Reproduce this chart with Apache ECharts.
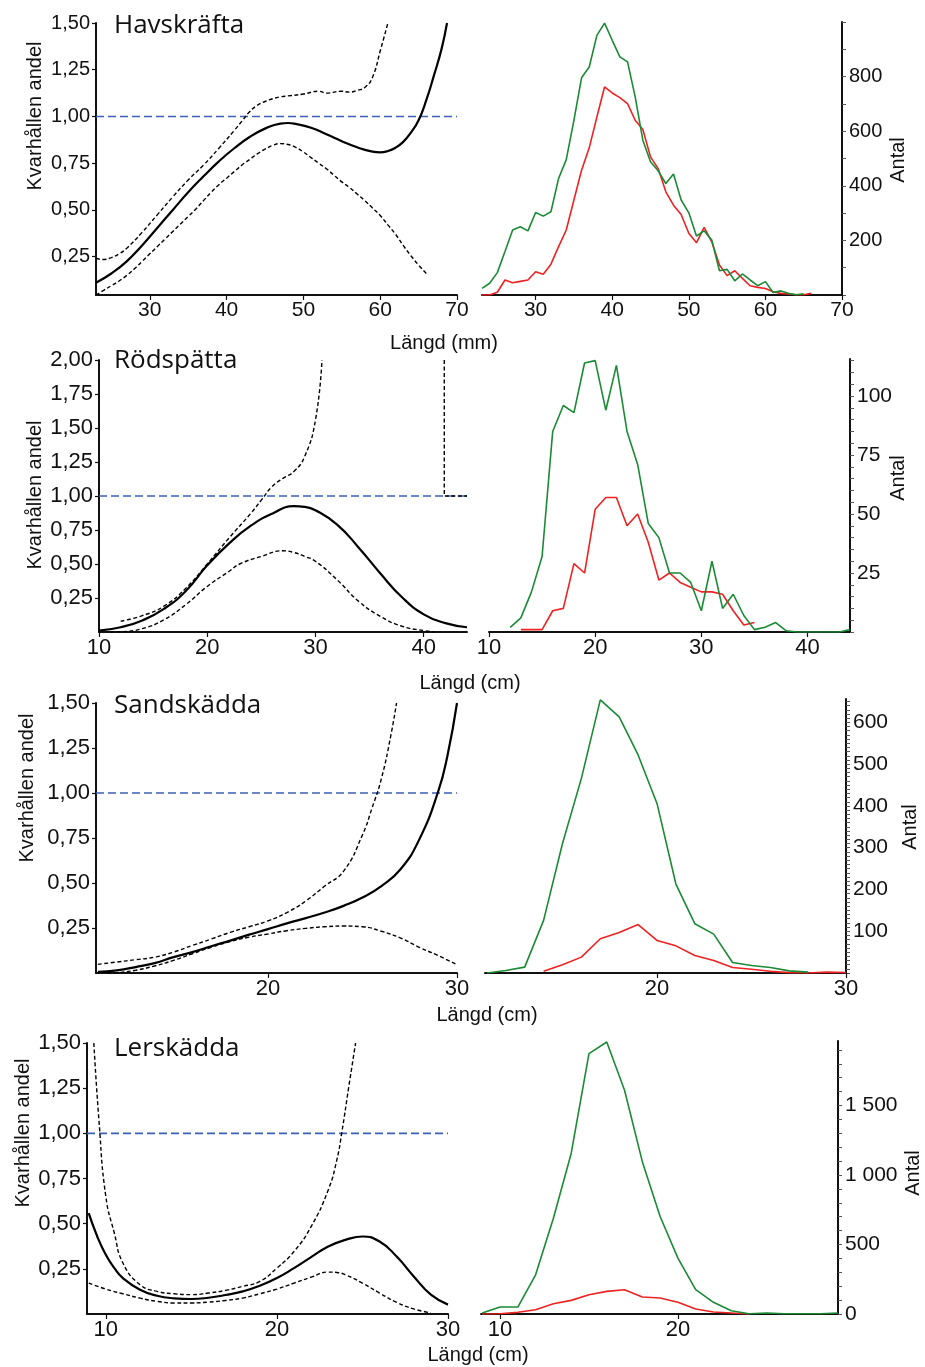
<!DOCTYPE html>
<html>
<head>
<meta charset="utf-8">
<script src="https://cdn.jsdelivr.net/npm/echarts@6/dist/echarts.min.js"></script>
<style>
html, body { margin: 0; padding: 0; background: #fff; }
#chart { width: 925px; height: 1367px; }
</style>
</head>
<body>
<div id="chart"></div>
<script>
// ---- Havskräfta: selection curve (fit, upper and lower limits) ----
const havFit = [[23,0.111],[25,0.16],[27,0.225],[29,0.31],[31,0.405],[33,0.5],[35,0.595],[37,0.68],[39,0.76],[41,0.83],[43,0.89],[45,0.935],[47,0.962],[48,0.965],[49,0.96],[51,0.94],[53,0.905],[55,0.868],[57,0.835],[59,0.812],[60,0.808],[61,0.815],[62,0.833],[63,0.864],[64,0.914],[65,0.98],[66,1.087],[67,1.22],[68,1.363],[68.7,1.5]];
const havUpper = [[23,0.24],[24,0.235],[25,0.245],[26,0.265],[27,0.295],[29,0.38],[31,0.475],[33,0.57],[35,0.66],[37,0.74],[39,0.83],[41,0.925],[42,0.975],[43,1.025],[44,1.06],[45,1.08],[46,1.095],[47,1.105],[48,1.11],[50,1.12],[52,1.135],[53,1.125],[55,1.135],[56,1.13],[57,1.14],[58,1.155],[59,1.21],[60,1.35],[61,1.5]];
const havLower = [[23,0.045],[24,0.07],[25,0.095],[26,0.12],[27,0.15],[28,0.185],[29,0.225],[30,0.265],[31,0.305],[32,0.345],[33,0.385],[34,0.425],[35,0.465],[36,0.505],[37,0.55],[38,0.595],[39,0.635],[40,0.67],[41,0.705],[42,0.74],[43,0.77],[44,0.8],[45,0.825],[46,0.845],[47,0.855],[48,0.85],[49,0.835],[50,0.81],[51,0.78],[52,0.75],[53,0.72],[54,0.685],[55,0.65],[56,0.62],[57,0.585],[58,0.55],[59,0.51],[60,0.47],[61,0.42],[62,0.37],[63,0.31],[64,0.255],[65,0.205],[66,0.16]];
// Havskräfta: length distribution (mm)
const havGreenLen = [23,24,25,26,27,28,29,30,31,32,33,34,35,36,37,38,39,40,41,42,43,44,45,46,47,48,49,50,51,52,53,54,55,56,57,58,59,60,61,62,63,64,65];
const havGreen = [24,43,82,159,238,250,235,302,289,305,427,496,640,796,835,951,996,933,872,854,726,567,488,455,408,443,348,301,216,235,201,89,94,52,77,55,34,49,9,15,6,1,4];
const havRedLen = [23,24,25,26,27,28,29,30,31,32,33,34,35,36,37,38,39,40,41,42,43,44,45,46,47,48,49,50,51,52,53,54,55,56,57,58,59,60,61,62,63,64,65,66];
const havRed = [0,0,10,55,45,50,55,85,76,113,177,238,348,457,539,652,762,740,723,701,640,606,506,463,378,329,295,226,191,248,195,110,71,89,61,34,28,24,12,6,4,1,1,6];

// ---- Rödspätta ----
const rodFit = [[10,0.01],[12,0.035],[14,0.085],[16,0.17],[18,0.3],[20,0.49],[22,0.65],[24,0.78],[26,0.87],[28,0.925],[29,0.92],[30,0.895],[32,0.79],[34,0.62],[36,0.43],[38,0.255],[40,0.13],[42,0.065],[44,0.035]];
const rodUpper = [[12,0.08],[14,0.12],[16,0.19],[18,0.32],[20,0.5],[22,0.69],[24,0.87],[25,0.97],[26,1.07],[27,1.13],[28,1.18],[29,1.29],[30,1.56],[30.6,2.0]];
const rodUpperTail = [[41.9,2.0],[41.9,1.0],[44,1.0]];
const rodLower = [[11,0],[12,0.002],[14,0.025],[16,0.09],[18,0.2],[20,0.335],[22,0.445],[23,0.5],[25,0.556],[27,0.597],[28,0.585],[29,0.556],[30,0.52],[32,0.384],[34,0.225],[36,0.115],[38,0.042],[40,0.01],[41,0]];
const rodGreenLen = [12,13,14,15,16,17,18,19,20,21,22,23,24,25,26,27,28,29,30,31,32,33,34,35,36,37,38,39,40,41,42,43,44];
const rodGreen = [2,6,17,32,85,96,93,114,115,94,113,85,71,46,40,25,25,21,9,30,10,16,7,1,2,4,0.5,0,0,0,0,0,1];
const rodRedLen = [13,14,15,16,17,18,19,20,21,22,23,24,25,26,27,28,29,30,31,32,33,34,35];
const rodRed = [1,1,1,9,10,29,25,52,57,57,45,50,38,22,25,21,19,17,17,16,9,3,4];

// ---- Sandskädda ----
const sanFit = [[11,0.006],[12,0.015],[13,0.033],[14,0.055],[15,0.088],[16,0.116],[17,0.149],[18,0.18],[19,0.213],[20,0.244],[21,0.276],[22,0.305],[23,0.336],[24,0.373],[25,0.419],[26,0.483],[27,0.575],[28,0.741],[29,1.007],[29.5,1.21],[30,1.5]];
const sanUpper = [[11,0.048],[12,0.061],[13,0.074],[14,0.088],[15,0.116],[16,0.153],[17,0.189],[18,0.226],[19,0.257],[20,0.29],[21,0.336],[22,0.4],[23,0.483],[24,0.566],[25,0.768],[25.5,0.915],[26,1.08],[26.5,1.32],[26.8,1.5]];
const sanLower = [[11.5,0],[12,0.002],[13,0.015],[14,0.039],[15,0.07],[16,0.107],[17,0.143],[18,0.175],[19,0.199],[20,0.217],[21,0.235],[22,0.248],[23,0.257],[24,0.261],[25,0.257],[26,0.232],[27,0.195],[28,0.143],[29,0.097],[30,0.046]];
const sanGreenLen = [11,12,13,14,15,16,17,18,19,20,21,22,23,24,25,26,27,28];
const sanGreen = [0,6,14,126,310,466,654,613,522,406,213,118,93,25,18,13,5,2];
const sanRedLen = [14,15,16,17,18,19,20,21,22,23,24,25,26,27,28,29,30];
const sanRed = [4,20,38,82,97,116,78,65,42,30,13,9,4,1,0,2,1];

// ---- Lerskädda ----
const lerFit = [[9,0.558],[9.5,0.429],[10,0.328],[10.5,0.254],[11,0.199],[12,0.134],[13,0.101],[14,0.087],[15,0.083],[16,0.09],[17,0.105],[18,0.125],[19,0.156],[20,0.199],[21,0.254],[22,0.315],[23,0.374],[24,0.41],[25,0.429],[26,0.401],[27,0.318],[28,0.208],[29,0.107],[30,0.052]];
const lerUpper = [[9.3,1.5],[9.6,1.07],[10,0.65],[10.5,0.447],[11,0.282],[12,0.162],[13,0.125],[14,0.112],[15,0.107],[16,0.116],[17,0.131],[18,0.153],[19,0.18],[20,0.254],[21,0.346],[22,0.484],[23,0.687],[23.5,0.852],[23.8,1.009],[24.2,1.257],[24.6,1.5]];
const lerLower = [[9,0.171],[10,0.138],[11,0.112],[12,0.088],[13,0.07],[14,0.061],[15,0.061],[16,0.066],[17,0.075],[18,0.088],[19,0.112],[20,0.138],[21,0.171],[22,0.204],[23,0.232],[23.5,0.23],[24,0.217],[25,0.171],[26,0.116],[27,0.064],[28,0.028],[29,0.006]];
const lerGreenLen = [9,10,11,12,13,14,15,16,17,18,19,20,21,22,23,24,25,26,27,28,29];
const lerGreen = [7,50,50,282,689,1155,1873,1957,1610,1096,701,402,175,84,24,2,7,2,2,2,7];
const lerRedLen = [9,10,11,12,13,14,15,16,17,18,19,20,21,22,23,24];
const lerRed = [0,2,12,31,74,98,139,163,175,122,115,84,36,14,7,0];

// ---- Axis tick labels ----
const shareTicks = [0.25,0.5,0.75,1.0,1.25,1.5];
const shareTicksRod = [0.25,0.5,0.75,1.0,1.25,1.5,1.75,2.0];
const havLenTicks = [30,40,50,60,70];
const rodLenTicks = [10,20,30,40];
const sanLenTicks = [20,30];
const lerLenTicksLeft = [10,20,30];
const lerLenTicksRight = [10,20];
const havCountLabels = [200,400,600,800];
const rodCountLabels = [25,50,75,100];
const sanCountLabels = [100,200,300,400,500,600];
const lerCountLabels = [0,500,1000,1500];

const FONT = 'Liberation Sans, Arial, sans-serif';
const TITLE_FONT = 'Open Sans, sans-serif';
const GREEN = '#1b8a35';
const RED = '#ee2222';
const BLUE = '#3a62b8';

function range(a, b, step) {
  const out = [];
  for (let v = a; v <= b + 1e-9; v += step) out.push(Math.round(v * 1000) / 1000);
  return out;
}
function pairs(xs, ys) { return xs.map((x, i) => [x, ys[i]]); }

const grids = [
  { left: 96, top: 23, width: 361, height: 272 },
  { left: 482, top: 22, width: 360, height: 273 },
  { left: 99, top: 360, width: 368, height: 272 },
  { left: 489, top: 359, width: 361, height: 273 },
  { left: 96, top: 703, width: 361, height: 270 },
  { left: 485, top: 699, width: 361, height: 274 },
  { left: 87, top: 1043, width: 361, height: 271 },
  { left: 481, top: 1041, width: 357, height: 273 }
].map(g => Object.assign({ outerBoundsMode: 'none', containLabel: false }, g));

const axisLine = { show: true, onZero: false, lineStyle: { color: '#111', width: 2 } };

function xAxis(gi, min, max, ticks, size) {
  return {
    type: 'value', gridIndex: gi, min: min, max: max,
    axisLine: axisLine,
    axisTick: { show: true, length: 5, lineStyle: { color: '#111', width: 1.2 }, customValues: ticks },
    axisLabel: { customValues: ticks, color: '#111', fontFamily: FONT, fontSize: size, margin: 5 },
    splitLine: { show: false }
  };
}
function shareAxis(gi, min, max, ticks, size) {
  return {
    type: 'value', gridIndex: gi, min: min, max: max, position: 'left',
    axisLine: axisLine,
    axisTick: { show: true, length: 4, lineStyle: { color: '#111', width: 1.2 }, customValues: ticks },
    axisLabel: {
      customValues: ticks, color: '#111', fontFamily: FONT, fontSize: size, margin: 6,
      formatter: v => v.toFixed(2).replace('.', ',')
    },
    splitLine: { show: false }
  };
}
function countAxis(gi, max, labels, tickStep, size) {
  return {
    type: 'value', gridIndex: gi, min: 0, max: max, position: 'right',
    axisLine: axisLine,
    axisTick: { show: true, length: 4, lineStyle: { color: '#555', width: 1 }, customValues: range(0, max, tickStep) },
    axisLabel: {
      customValues: labels, color: '#111', fontFamily: FONT, fontSize: size, margin: 7,
      formatter: v => String(v).replace(/\B(?=(\d{3})+(?!\d))/g, ' ')
    },
    splitLine: { show: false }
  };
}

const xAxes = [
  xAxis(0, 23, 70, havLenTicks, 21), xAxis(1, 23, 70, havLenTicks, 21),
  xAxis(2, 10, 44, rodLenTicks, 22), xAxis(3, 10, 44, rodLenTicks, 22),
  xAxis(4, 10.9, 30, sanLenTicks, 22), xAxis(5, 10.9, 30, sanLenTicks, 22),
  xAxis(6, 8.9, 30, lerLenTicksLeft, 22), xAxis(7, 8.93, 29, lerLenTicksRight, 22)
];
const yAxes = [
  shareAxis(0, 0.045, 1.5, shareTicks, 20), countAxis(1, 1000, havCountLabels, 100, 20),
  shareAxis(2, 0, 2.0, shareTicksRod, 22), countAxis(3, 115.7, rodCountLabels, 5, 21),
  shareAxis(4, 0, 1.5, shareTicks, 22), countAxis(5, 656, sanCountLabels, 10, 21),
  shareAxis(6, 0, 1.5, shareTicks, 22), countAxis(7, 1964, lerCountLabels, 100, 21)
];

function fitSeries(gi, data) {
  return { type: 'line', xAxisIndex: gi, yAxisIndex: gi, data: data, smooth: 0.5,
    symbol: 'none', lineStyle: { color: '#000', width: 2.2 }, z: 3 };
}
function limitSeries(gi, data, smooth) {
  return { type: 'line', xAxisIndex: gi, yAxisIndex: gi, data: data, smooth: smooth === false ? false : 0.5,
    symbol: 'none', lineStyle: { color: '#000', width: 1.4, type: [4, 2.5] }, z: 3 };
}
function refLine(gi, x0, x1) {
  return { type: 'line', xAxisIndex: gi, yAxisIndex: gi, data: [[x0, 1], [x1, 1]], symbol: 'none',
    lineStyle: { color: BLUE, width: 1.6, type: [8, 4] }, z: 2 };
}
function countSeries(gi, xs, ys, color) {
  return { type: 'line', xAxisIndex: gi, yAxisIndex: gi, data: pairs(xs, ys), symbol: 'none',
    lineStyle: { color: color, width: 1.6 }, z: 3 };
}

const series = [
  refLine(0, 23, 70), fitSeries(0, havFit), limitSeries(0, havUpper), limitSeries(0, havLower),
  countSeries(1, havRedLen, havRed, RED), countSeries(1, havGreenLen, havGreen, GREEN),
  refLine(2, 10, 44), fitSeries(2, rodFit), limitSeries(2, rodUpper), limitSeries(2, rodUpperTail, false), limitSeries(2, rodLower),
  countSeries(3, rodRedLen, rodRed, RED), countSeries(3, rodGreenLen, rodGreen, GREEN),
  refLine(4, 10.9, 30), fitSeries(4, sanFit), limitSeries(4, sanUpper), limitSeries(4, sanLower),
  countSeries(5, sanRedLen, sanRed, RED), countSeries(5, sanGreenLen, sanGreen, GREEN),
  refLine(6, 8.9, 30), fitSeries(6, lerFit), limitSeries(6, lerUpper), limitSeries(6, lerLower),
  countSeries(7, lerRedLen, lerRed, RED), countSeries(7, lerGreenLen, lerGreen, GREEN)
];

function label(text, x, y, opts) {
  opts = opts || {};
  return {
    type: 'text', x: x, y: y, rotation: opts.rot || 0, z: 10,
    style: {
      text: text, fill: '#111', font: (opts.size || 20) + 'px ' + (opts.family || FONT),
      textAlign: opts.align || 'center', textVerticalAlign: 'middle'
    }
  };
}
const V = Math.PI / 2;
const graphics = [
  label('Havskräfta', 114, 26, { size: 26, family: TITLE_FONT, align: 'left' }),
  label('Rödspätta', 114, 361, { size: 26, family: TITLE_FONT, align: 'left' }),
  label('Sandskädda', 114, 706, { size: 26, family: TITLE_FONT, align: 'left' }),
  label('Lerskädda', 114, 1049, { size: 26, family: TITLE_FONT, align: 'left' }),
  label('Kvarhållen andel', 35, 116, { rot: V }),
  label('Kvarhållen andel', 35, 495, { rot: V }),
  label('Kvarhållen andel', 27, 788, { rot: V }),
  label('Kvarhållen andel', 23, 1133, { rot: V }),
  label('Antal', 898, 160, { rot: V }),
  label('Antal', 898, 478, { rot: V }),
  label('Antal', 910, 827, { rot: V }),
  label('Antal', 913, 1173, { rot: V }),
  label('Längd (mm)', 444, 343),
  label('Längd (cm)', 470, 683),
  label('Längd (cm)', 487, 1015),
  label('Längd (cm)', 478, 1355)
];

const chart = echarts.init(document.getElementById('chart'), null, { renderer: 'canvas' });
chart.setOption({
  backgroundColor: '#ffffff',
  animation: false,
  grid: grids,
  xAxis: xAxes,
  yAxis: yAxes,
  series: series,
  graphic: graphics
});
</script>
</body>
</html>
